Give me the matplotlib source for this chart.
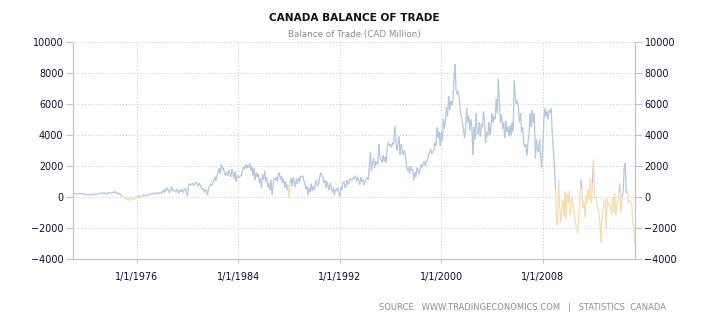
import matplotlib
matplotlib.use("Agg")
import matplotlib.pyplot as plt
import matplotlib.dates as mdates
from matplotlib.collections import LineCollection
import numpy as np
import pandas as pd

# monthly balance of trade, CAD million, Jan 1971 onwards
bal_1970s = [
    230, 260, 210, 240, 180, 220, 260, 200, 240, 190, 230, 200,
    170, 130, 190, 120, 150, 200, 110, 170, 220, 150, 180, 210,
    190, 240, 280, 200, 250, 300, 220, 260, 180, 290, 240, 270,
    300, 260, 340, 280, 360, 230, 290, 180, 220, 110, 60, 20,
    -60, -120, 40, -180, -90, -250, -50, -140, 30, -200, -80, 10,
    -40, 60, 20, 110, -30, 90, 150, 50, 120, 70, 160, 100,
    180, 230, 150, 260, 200, 290, 170, 240, 300, 210, 280, 230,
    310, 440, 280, 520, 370, 600, 420, 260, 500, 680, 380, 470,
    420, 300, 510, 380, 250, 460, 350, 520, 300, 430, 560, 380,
]
bal_1980s = [
    80, 700, 880, 760, 820, 900, 740, 860, 950, 800, 680, 900,
    780, 650, 470, 560, 300, 520, 380, 120, 600, 680, 820, 750,
    900, 1100, 1300, 1050, 1450, 1600, 1850, 1500, 2100, 1750, 1900, 1500,
    1400, 1600, 1350, 1750, 1500, 1300, 1800, 1550, 1200, 1650, 980, 1400,
    1300, 1250, 1400, 1350, 1700, 1950, 1800, 2100, 1850, 2050, 1900, 2150,
    1700, 1950, 1400, 1850, 1100, 1600, 1300, 1500, 900, 1200, 600, 1450,
    1100, 1700, 1000, 1270, 650, 900, 450, 1100, 150, 800, 1200, 1100,
    1300, 1000, 1480, 1580, 1100, 1350, 900, 1170, 600, 1000, 450, 800,
    -60, 900, 1200, 700, 1270, 1000, 650, 1150, 850, 1270, 1000, 1370,
    1300, 1370, 1100, 860, 500, 700, 150, 600, 300, 860, 400, 700,
]
bal_1990s = [
    450, 900, 1070, 700, 800, 1270, 1580, 1400, 1300, 900, 1070, 600,
    1000, 700, 450, 900, 650, 300, 600, 150, 500, 400, 650, 300,
    30, 650, 450, 900, 1000, 600, 700, 1100, 800, 1000, 1200, 1070,
    1100, 1300, 1200, 1370, 1000, 1250, 1100, 800, 1280, 1000, 1150, 770,
    1000, 1200, 1280, 1100, 1900, 2900, 1700, 2200, 2500, 1900, 2300, 2100,
    2200, 3400, 2600, 2400, 2200, 2700, 2300, 2600, 2200, 3200, 3500, 3300,
    3400, 3200, 3500, 3400, 4560, 3900, 3000, 3300, 3900, 2700, 3400, 3100,
    2700, 3000, 2800, 2100, 1700, 1900, 1500, 2000, 1700, 1800, 1080, 1600,
    1300, 1900, 1700, 1500, 1800, 2100, 1900, 2200, 2300, 2000, 2300, 2400,
    2700, 2900, 3100, 2800, 2900, 3000, 3500, 3300, 4500, 3800, 4200, 3300,
]
bal_2000s = [
    4150, 3600, 5000, 4400, 5000, 5800, 5200, 6500, 5600, 6200, 5900, 6200,
    7600, 8560, 6900, 6600, 6800, 6400, 5600, 5200, 4800, 4400, 3800, 4500,
    5700, 4800, 5200, 4300, 5000, 4500, 2700, 4500, 3700, 5400, 4300, 4000,
    4800, 3900, 4700, 4500, 5500, 4800, 3500, 4200, 3900, 4800, 4000, 4500,
    5400, 4800, 5200, 5000, 6300, 5400, 7600, 6000, 4800, 5300, 4400, 4800,
    3800, 4900, 4200, 4500, 3900, 4600, 4000, 4800, 4200, 7500, 6400, 6000,
    6200, 5800, 4800, 5400, 4150, 4500, 3500, 3200, 3400, 2700, 3500, 4150,
    5400, 4500, 5600, 4800, 5400, 2500, 3700, 3000, 2900, 3700, 2600, 1900,
    3300, 5000, 5700, 5200, 5500, 5000, 5600, 5400, 5700, 4000, 3000, 2000,
    470, -1700, -1800, 1100, -500, -1600, -900, -200, -1200, 370, -1400, 200,
]
bal_2010s = [
    -400, 370, -1160, -600, 60, -700, -1160, -1770, -1980, -2350, -1160, -300,
    1120, 500, -700, -300, -1300, 60, -400, 500, -200, 1200, -400, 900,
    2400, -40, 0, -140, -760, -1000, -1570, -2900, -1570, -800, -300, -140,
    -2000, -100, -540, -440, -700, -1160, 0, -1000, 260, -1160, -400, -350,
    300, 880, -960, 0, 260, 1900, 2200, 270, 370, -350, -200, -350,
    -400, -1370, -2000, -3000,
]

tick_years = [1976, 1984, 1992, 2000, 2008]
yticks = [-4000, -2000, 0, 2000, 4000, 6000, 8000, 10000]

BLUE = "#b3c6e0"
ORANGE = "#f7dcae"
GRID = "#c8c8c8"
AXIS = "#c4c4c4"
LABEL = "#0c0c36"

values = np.array(bal_1970s + bal_1980s + bal_1990s + bal_2000s + bal_2010s, float)
dates = pd.date_range("1971-01-01", periods=len(values), freq="MS")
x = mdates.date2num(dates.to_pydatetime())

fig = plt.figure(figsize=(7.1, 3.25), dpi=100)
ax = fig.add_axes([0.1032, 0.2022, 0.7908, 0.6698])

pts = np.column_stack([x, values])
segs = np.stack([pts[:-1], pts[1:]], axis=1)
neg = (values[:-1] < 0) | (values[1:] < 0)
cols = [ORANGE if n else BLUE for n in neg]
ax.add_collection(LineCollection(segs, colors=cols, linewidths=0.9))

ax.set_xlim(x[0], x[-1])
ax.set_ylim(-4000, 10000)
ax.set_yticks(yticks)
ax.set_xticks(mdates.date2num([pd.Timestamp(f"{y}-01-01") for y in tick_years]))
ax.set_xticklabels([f"1/1/{y}" for y in tick_years])

ax.grid(True, color=GRID, linestyle=(0, (1, 2)), linewidth=0.7)
ax.spines["top"].set_visible(False)
for s in ["left", "right", "bottom"]:
    ax.spines[s].set_color(AXIS)
    ax.spines[s].set_linewidth(0.9)

ax.tick_params(axis="y", which="both", left=True, right=True, labelleft=True,
               labelright=True, length=5, color=AXIS, labelsize=6.9,
               labelcolor=LABEL, pad=2)
ax.tick_params(axis="x", length=3, color=AXIS, labelsize=6.9, labelcolor=LABEL, pad=6)

fig.text(0.4986, 0.945, "CANADA BALANCE OF TRADE", ha="center", va="center",
         fontsize=7.6, color="#111111", fontweight="bold")
fig.text(0.4986, 0.895, "Balance of Trade (CAD Million)", ha="center", va="center",
         fontsize=6.3, color="#8a8a8a")
fig.text(0.938, 0.055, "SOURCE:  WWW.TRADINGECONOMICS.COM   |   STATISTICS  CANADA",
         ha="right", va="center", fontsize=6.0, color="#8c8c8c")

fig.savefig("out.png", dpi=100, facecolor="white")
